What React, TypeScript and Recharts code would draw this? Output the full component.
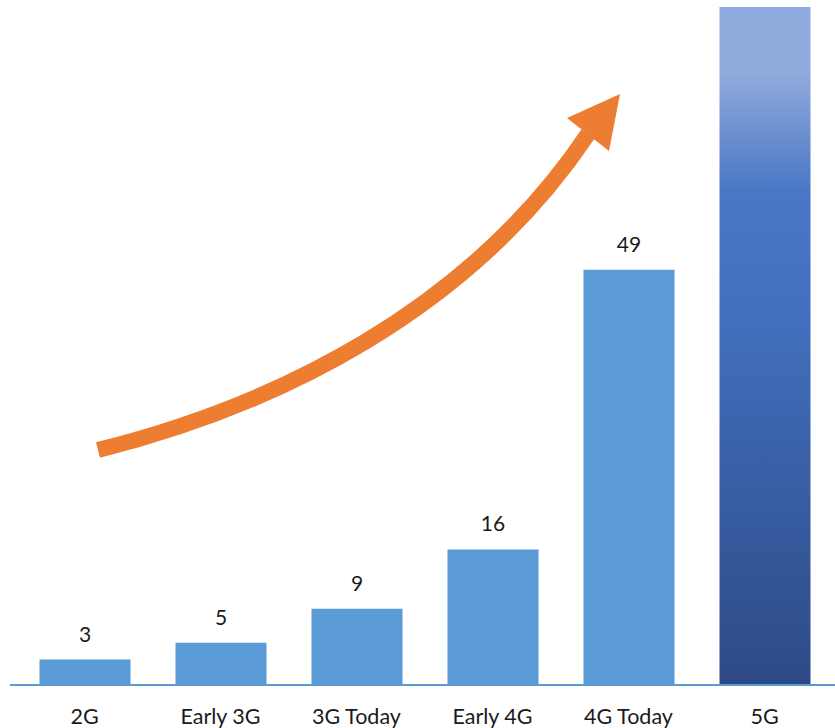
import { BarChart, Bar, XAxis, YAxis, Cell, LabelList } from "recharts"

const categories = ["2G", "Early 3G", "3G Today", "Early 4G", "4G Today", "5G"]
const values = [3, 5, 9, 16, 49, 80]
const valueLabels = ["3", "5", "9", "16", "49", ""]

const data = categories.map((name, i) => ({
  name,
  value: values[i],
  label: valueLabels[i],
}))

const BAR = "#5B9BD5"
const ARROW = "#ED7D31"
const FONT = "Lato, 'Noto Sans', sans-serif"

// decorative growth arrow drawn over the chart
function GrowthArrow() {
  return (
    <svg
      width={835}
      height={728}
      style={{ position: "absolute", left: 0, top: 0, pointerEvents: "none" }}
    >
      <path
        d="M 98 450 C 278 405, 470 310, 588 134"
        fill="none"
        stroke={ARROW}
        strokeWidth={16}
      />
      <polygon points="620,94 567,118 609,151" fill={ARROW} />
    </svg>
  )
}

export default function App() {
  return (
    <div
      style={{
        position: "absolute",
        left: 0,
        top: 0,
        width: 835,
        height: 728,
        background: "#ffffff",
        fontFamily: FONT,
      }}
    >
      <BarChart
        width={835}
        height={728}
        data={data}
        margin={{ top: 7, right: 0, bottom: 0, left: 10 }}
      >
        <defs>
          <linearGradient id="grad5g" x1="0" y1="0" x2="0" y2="1">
            <stop offset="0" stopColor="#8FAADC" />
            <stop offset="0.1" stopColor="#8FAADC" />
            <stop offset="0.27" stopColor="#4A77C6" />
            <stop offset="0.45" stopColor="#4270BE" />
            <stop offset="1" stopColor="#2D4A86" />
          </linearGradient>
        </defs>

        <XAxis
          dataKey="name"
          height={43}
          padding={{ left: 6.5, right: 2.5 }}
          axisLine={{ stroke: BAR, strokeWidth: 2 }}
          tickLine={false}
          tickMargin={18}
          interval={0}
          tick={{ fontSize: 21.5, fill: "#1a1a1a", fontFamily: FONT }}
        />
        <YAxis hide domain={[0, 80]} />

        <Bar dataKey="value" barSize={91} isAnimationActive={false}>
          {data.map((d, i) => (
            <Cell key={d.name} fill={i === data.length - 1 ? "url(#grad5g)" : BAR} />
          ))}
          <LabelList
            dataKey="label"
            position="top"
            offset={18}
            fill="#1a1a1a"
            fontSize={21}
            fontFamily={FONT}
          />
        </Bar>
      </BarChart>
      <GrowthArrow />
    </div>
  )
}
